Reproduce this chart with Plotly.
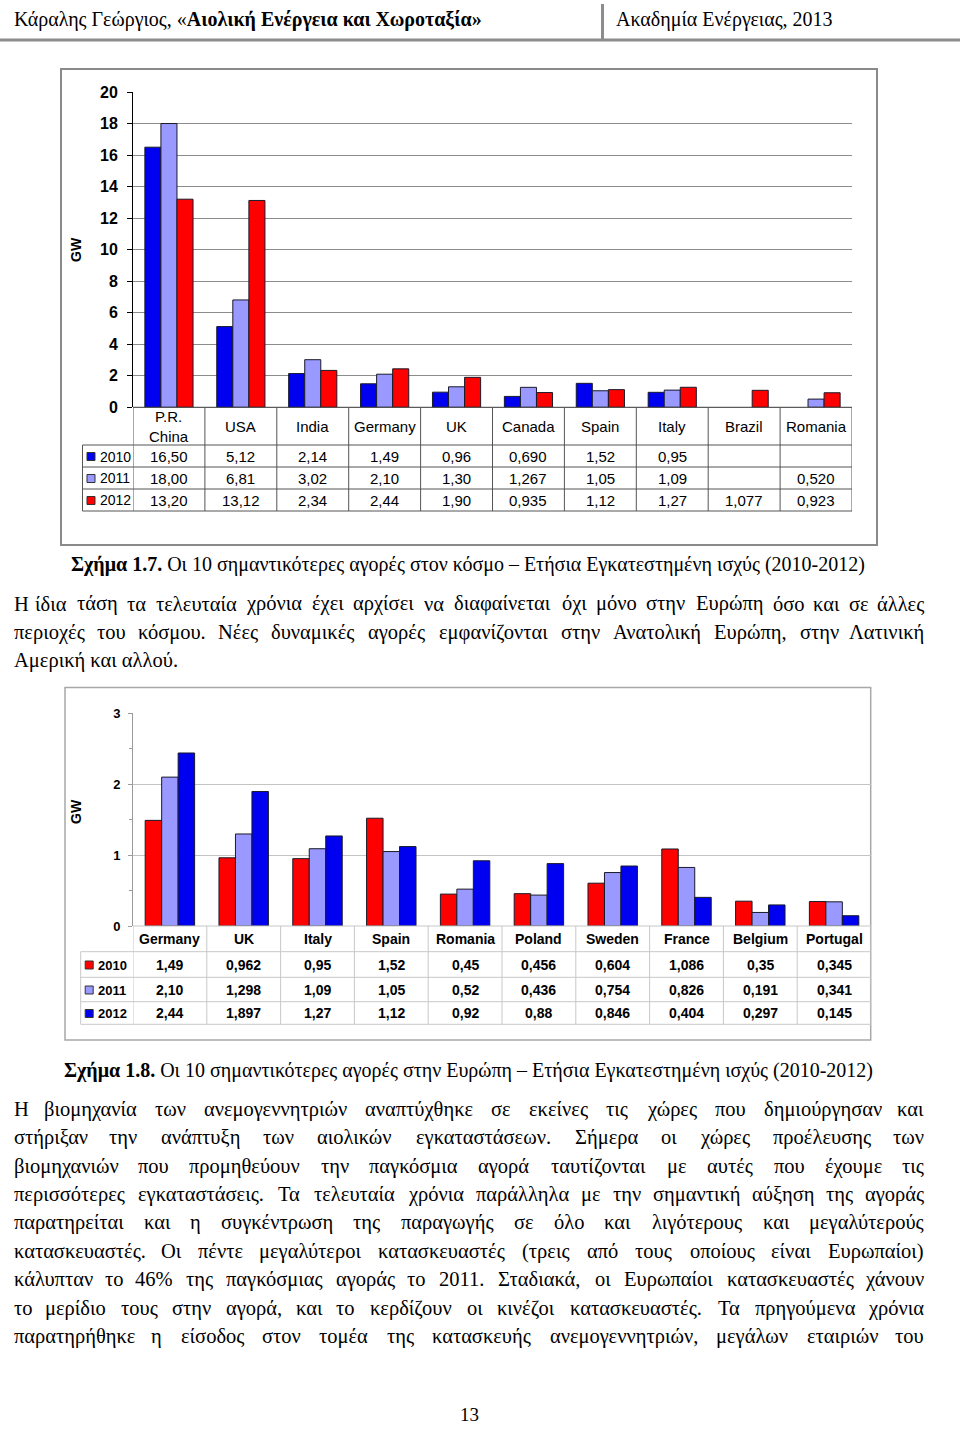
import plotly.graph_objects as go

W, H = 960, 1429

# ---------------- DATA ----------------
world_labels = ["P.R.<br>China", "USA", "India", "Germany", "UK", "Canada", "Spain", "Italy", "Brazil", "Romania"]
world_2010 = ["16,50", "5,12", "2,14", "1,49", "0,96", "0,690", "1,52", "0,95", None, None]
world_2011 = ["18,00", "6,81", "3,02", "2,10", "1,30", "1,267", "1,05", "1,09", None, "0,520"]
world_2012 = ["13,20", "13,12", "2,34", "2,44", "1,90", "0,935", "1,12", "1,27", "1,077", "0,923"]

europe_labels = ["Germany", "UK", "Italy", "Spain", "Romania", "Poland", "Sweden", "France", "Belgium", "Portugal"]
europe_2010 = ["1,49", "0,962", "0,95", "1,52", "0,45", "0,456", "0,604", "1,086", "0,35", "0,345"]
europe_2011 = ["2,10", "1,298", "1,09", "1,05", "0,52", "0,436", "0,754", "0,826", "0,191", "0,341"]
europe_2012 = ["2,44", "1,897", "1,27", "1,12", "0,92", "0,88", "0,846", "0,404", "0,297", "0,145"]

years = ["2010", "2011", "2012"]

header_left = "Κάραλης Γεώργιος, «<b>Αιολική Ενέργεια και Χωροταξία»</b>"
header_right = "Ακαδημία Ενέργειας, 2013"
caption1 = "<b>Σχήμα 1.7.</b> Οι 10 σημαντικότερες αγορές στον κόσμο – Ετήσια Εγκατεστημένη ισχύς (2010-2012)"
caption2 = "<b>Σχήμα 1.8.</b> Οι 10 σημαντικότερες αγορές στην Ευρώπη – Ετήσια Εγκατεστημένη ισχύς (2010-2012)"
para1 = [
    "Η ίδια τάση τα τελευταία χρόνια έχει αρχίσει να διαφαίνεται όχι μόνο στην Ευρώπη όσο και σε άλλες",
    "περιοχές του κόσμου. Νέες δυναμικές αγορές εμφανίζονται στην Ανατολική Ευρώπη, στην Λατινική",
    "Αμερική και αλλού.",
]
para2 = [
    "Η βιομηχανία των ανεμογεννητριών αναπτύχθηκε σε εκείνες τις χώρες που δημιούργησαν και",
    "στήριξαν την ανάπτυξη των αιολικών εγκαταστάσεων. Σήμερα οι χώρες προέλευσης των",
    "βιομηχανιών που προμηθεύουν την παγκόσμια αγορά ταυτίζονται με αυτές που έχουμε τις",
    "περισσότερες εγκαταστάσεις. Τα τελευταία χρόνια παράλληλα με την σημαντική αύξηση της αγοράς",
    "παρατηρείται και η συγκέντρωση της παραγωγής σε όλο και λιγότερους και μεγαλύτερούς",
    "κατασκευαστές. Οι πέντε μεγαλύτεροι κατασκευαστές (τρεις από τους οποίους είναι Ευρωπαίοι)",
    "κάλυπταν το 46% της παγκόσμιας αγοράς το 2011. Σταδιακά, οι Ευρωπαίοι κατασκευαστές χάνουν",
    "το μερίδιο τους στην αγορά, και το κερδίζουν οι κινέζοι κατασκευαστές. Τα πρηγούμενα χρόνια",
    "παρατηρήθηκε η είσοδος στον τομέα της κατασκευής ανεμογεννητριών, μεγάλων εταιριών του",
]
page_number = "13"


def num(s):
    return None if s is None else float(s.replace(",", "."))


# ---------------- HELPERS ----------------
def px(xp):
    return xp / W


def py(yp):
    return 1 - yp / H


SERIF = "Liberation Serif"
SANS = "Liberation Sans, Arial"

BLUE = "#0000F0"
LIGHT = "#9999FF"
RED = "#FF0000"

fig = go.Figure()
shapes = []
annotations = []


def hline(x0, x1, y, color, width=1):
    shapes.append(dict(type="line", xref="paper", yref="paper", x0=px(x0), x1=px(x1),
                       y0=py(y), y1=py(y), line=dict(color=color, width=width), layer="above"))


def vline_px(x, y0, y1, color, width=1):
    shapes.append(dict(type="line", xref="paper", yref="paper", x0=px(x), x1=px(x),
                       y0=py(y0), y1=py(y1), line=dict(color=color, width=width), layer="above"))


def text(x, y, t, size, family=SERIF, xanchor="left", color="#000", weight="normal", xref="paper"):
    annotations.append(dict(x=x if xref != "paper" else px(x), y=py(y), xref=xref, yref="paper",
                            text=t, showarrow=False, xanchor=xanchor, yanchor="middle",
                            font=dict(family=family, size=size, color=color, weight=weight)))


# ---------------- CHARTS ----------------
charts = [
    dict(xa="x", ya="y", labels=world_labels, series=[world_2010, world_2011, world_2012],
         colors=[BLUE, LIGHT, RED], left=133, right=852, top=92, bottom=407.3,
         rows=[407.3, 445, 467, 489, 511], tleft=82.5, ymax=20, dtick=2,
         frame=(61, 69, 877, 545), frame_color="#8a8a8a", frame_w=2,
         grid="#8c8c8c", tline="#555555", tsize=15, tweight="normal", tickfont=16,
         gw_y=250, sq=8),
    dict(xa="x2", ya="y2", labels=europe_labels, series=[europe_2010, europe_2011, europe_2012],
         colors=[RED, LIGHT, BLUE], left=133, right=871, top=713.3, bottom=926,
         rows=[926, 951.7, 977.3, 1001.7, 1024.3], tleft=80.7, ymax=3, dtick=1,
         frame=(65, 687.5, 870.7, 1040), frame_color="#a8a8a8", frame_w=1.5,
         grid="#c4c4c4", tline="#c8c8c8", tsize=14, tweight="bold", tickfont=13,
         gw_y=812, sq=8),
]

layout_axes = {}
for ci, c in enumerate(charts):
    n = "" if ci == 0 else "2"
    cats = [l.replace("<br>", " ") for l in c["labels"]]
    for yr, ser, col in zip(years, c["series"], c["colors"]):
        fig.add_trace(go.Bar(x=cats, y=[num(v) for v in ser], name=yr, xaxis=c["xa"], yaxis=c["ya"],
                             marker=dict(color=col, line=dict(color="#1a1a2a", width=1)),
                             showlegend=False, hoverinfo="skip"))
    layout_axes["xaxis" + n] = dict(domain=[px(c["left"]), px(c["right"])], anchor=c["ya"],
                                    type="category", categoryorder="array", categoryarray=cats,
                                    range=[-0.5, 9.5], showticklabels=False, showgrid=False,
                                    showline=False, zeroline=False, ticks="", fixedrange=True,
                                    automargin=False)
    yax = dict(domain=[py(c["bottom"]), py(c["top"])], anchor=c["xa"], range=[0, c["ymax"]],
               dtick=c["dtick"], showgrid=True, gridcolor=c["grid"], gridwidth=1,
               zeroline=False, showline=True, fixedrange=True, automargin=False,
               ticks="outside", ticklen=5 if ci == 0 else 4,
               tickfont=dict(family=SANS, size=c["tickfont"], color="#000", weight="bold"))
    if ci == 0:
        yax.update(linecolor="#000", linewidth=1, tickcolor="#000", ticklabelstandoff=6)
    else:
        yax.update(linecolor="#9a9a9a", linewidth=1, tickcolor="#9a9a9a", ticklabelstandoff=5,
                   minor=dict(dtick=0.5, ticks="outside", ticklen=3, tickcolor="#9a9a9a", showgrid=False))
    layout_axes["yaxis" + n] = yax

    # frame
    fx0, fy0, fx1, fy1 = c["frame"]
    shapes.append(dict(type="rect", xref="paper", yref="paper", x0=px(fx0), x1=px(fx1),
                       y0=py(fy1), y1=py(fy0), line=dict(color=c["frame_color"], width=c["frame_w"]),
                       layer="below"))
    # GW label
    annotations.append(dict(x=px(76), y=py(c["gw_y"]), xref="paper", yref="paper", text="GW",
                            showarrow=False, textangle=-90, xanchor="center", yanchor="middle",
                            font=dict(family=SANS, size=14, color="#000", weight="bold")))

    # data table
    rows = c["rows"]
    tl = c["tline"]
    hline(c["left"], c["right"], rows[0], tl if ci else "#333", 1)
    for ry in rows[1:]:
        hline(c["tleft"], c["right"], ry, tl, 1)
    vline_px(c["tleft"], rows[1], rows[-1], tl, 1)
    for i in range(len(cats) + 1):
        shapes.append(dict(type="line", xref=c["xa"], yref="paper", x0=i - 0.5, x1=i - 0.5,
                           y0=py(rows[0]), y1=py(rows[-1]), line=dict(color=tl, width=1), layer="above"))
    # header labels
    for lab, cat in zip(c["labels"], cats):
        annotations.append(dict(x=cat, y=py((rows[0] + rows[1]) / 2 + 0.5), xref=c["xa"], yref="paper",
                                text=lab, showarrow=False, xanchor="center", yanchor="middle",
                                font=dict(family=SANS, size=c["tsize"], color="#000", weight=c["tweight"])))
    # values + legend
    for r, (yr, ser, col) in enumerate(zip(years, c["series"], c["colors"])):
        yc = (rows[r + 1] + rows[r + 2]) / 2 + 0.5
        for v, cat in zip(ser, cats):
            if v is not None:
                annotations.append(dict(x=cat, y=py(yc), xref=c["xa"], yref="paper", text=v,
                                        showarrow=False, xanchor="center", yanchor="middle",
                                        font=dict(family=SANS, size=c["tsize"], color="#000",
                                                  weight=c["tweight"])))
        sx = c["tleft"] + 4.5
        s = c["sq"]
        shapes.append(dict(type="rect", xref="paper", yref="paper", x0=px(sx), x1=px(sx + s),
                           y0=py(yc + s / 2), y1=py(yc - s / 2), fillcolor=col,
                           line=dict(color="#333", width=1), layer="above"))
        text(sx + s + 3, yc, yr, c["tsize"] - 1, family=SANS, weight=c["tweight"])

# ---------------- PAGE TEXT ----------------
CW = {" ": .25, ".": .25, ",": .25, "(": .333, ")": .333, "-": .333, "–": .5, "%": .833, "«": .5, "»": .5,
      "α": .53, "ά": .53, "β": .5, "γ": .44, "δ": .5, "ε": .42, "έ": .42, "ζ": .42, "η": .5, "ή": .5,
      "θ": .5, "ι": .28, "ί": .28, "κ": .5, "λ": .48, "μ": .53, "ν": .45, "ξ": .44, "ο": .5, "ό": .5,
      "π": .54, "ρ": .5, "σ": .53, "ς": .43, "τ": .42, "υ": .5, "ύ": .5, "φ": .63, "χ": .47, "ψ": .66,
      "ω": .67, "ώ": .67, "Ι": .33}


def est_w(word, size):
    tot = 0
    for ch in word:
        if ch in CW:
            tot += CW[ch]
        elif ch.isdigit():
            tot += .5
        elif ch.isupper():
            tot += .68
        else:
            tot += .5
    return tot * size


BODY = 20.5
XL, XR = 12, 926


def justify(line, y, size=BODY):
    words = line.split(" ")
    ws = [est_w(w, size) for w in words]
    gap = (XR - XL - sum(ws)) / (len(words) - 1)
    x = XL
    for i, (w, ww) in enumerate(zip(words, ws)):
        if i == 0:
            text(XL, y, w, size, xanchor="left")
        elif i == len(words) - 1:
            text(XR, y, w, size, xanchor="right")
        else:
            text(x + ww / 2, y, w, size, xanchor="center")
        x += ww + gap


# header
text(12, 20, header_left, 20)
text(614, 20, header_right, 20)
hline(0, 960, 40, "#8c8c8c", 3)
vline_px(602.5, 4, 40, "#8c8c8c", 3)

# captions
text(468, 564, caption1, 20, xanchor="center")
text(468, 1070, caption2, 20, xanchor="center")

p1_y = [604, 632, 660]
for i, (ln, yy) in enumerate(zip(para1, p1_y)):
    if i < len(para1) - 1:
        justify(ln, yy)
    else:
        text(XL, yy, ln, BODY)

p2_y = [1109, 1137, 1166, 1194, 1222, 1251, 1279, 1308, 1336]
for ln, yy in zip(para2, p2_y):
    justify(ln, yy)

text(469, 1414, page_number, 19, xanchor="center")

fig.update_layout(width=W, height=H, margin=dict(l=0, r=0, t=0, b=0, pad=0, autoexpand=False),
                  paper_bgcolor="white", plot_bgcolor="white",
                  barmode="group", bargap=0.33, bargroupgap=0,
                  shapes=shapes, annotations=annotations, **layout_axes)

fig.write_html("out.html", config={"displayModeBar": False},
               post_script="document.body.style.margin='0px';document.body.style.padding='0px';")
